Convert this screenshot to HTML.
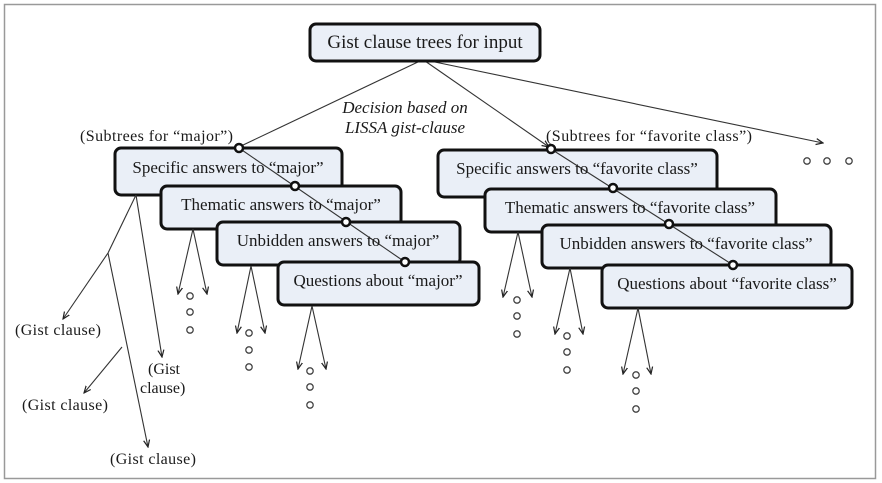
<!DOCTYPE html>
<html><head><style>body{margin:0;background:#fff}svg{display:block}text{font-family:"Liberation Serif",serif;fill:#1a1a1a}</style></head><body>
<svg width="882" height="483" viewBox="0 0 882 483" xmlns="http://www.w3.org/2000/svg">
<defs><marker id="a" markerWidth="8" markerHeight="8" refX="7" refY="4" orient="auto" markerUnits="userSpaceOnUse"><path d="M0,1 L7,4 L0,7" fill="none" stroke="#222" stroke-width="1.2"/></marker></defs>
<rect x="4.5" y="4.5" width="871" height="474" fill="#fff" stroke="#999" stroke-width="1.5"/>
<g stroke="#333" stroke-width="1.1" fill="none">
<line x1="420" y1="61" x2="241" y2="146"/>
<line x1="425" y1="61" x2="549" y2="147" marker-end="url(#a)"/>
<line x1="430" y1="61" x2="823" y2="143" marker-end="url(#a)"/>
</g>
<g stroke="#111" stroke-width="3" fill="#eaeff7">
<rect x="310" y="24" width="230" height="37" rx="6"/>
<rect x="115" y="148" width="227" height="47" rx="6"/>
<rect x="161" y="186" width="240" height="43" rx="6"/>
<rect x="217" y="222" width="243" height="43" rx="6"/>
<rect x="278" y="262" width="201" height="43" rx="6"/>
<rect x="438" y="150" width="279" height="47" rx="6"/>
<rect x="485" y="189" width="291" height="43" rx="6"/>
<rect x="542" y="225" width="289" height="43" rx="6"/>
<rect x="602" y="265" width="250" height="43" rx="6"/>
</g>
<g stroke="#333" stroke-width="1.1">
<line x1="239" y1="148" x2="405" y2="262"/>
<line x1="551" y1="149" x2="733" y2="265"/>
</g>
<g stroke="#111" stroke-width="2.5" fill="#fff">
<circle cx="239" cy="148" r="4"/><circle cx="295" cy="186" r="4"/><circle cx="346" cy="222" r="4"/><circle cx="405" cy="262" r="4"/>
<circle cx="551" cy="149" r="4"/><circle cx="613" cy="188" r="4"/><circle cx="669" cy="224" r="4"/><circle cx="733" cy="265" r="4"/>
</g>
<g font-size="17">
<text x="425" y="48" text-anchor="middle" font-size="19">Gist clause trees for input</text>
<text x="228" y="173" text-anchor="middle">Specific answers to “major”</text>
<text x="281" y="210" text-anchor="middle">Thematic answers to “major”</text>
<text x="338" y="246" text-anchor="middle">Unbidden answers to “major”</text>
<text x="378" y="286" text-anchor="middle">Questions about “major”</text>
<text x="577" y="174" text-anchor="middle">Specific answers to “favorite class”</text>
<text x="630" y="213" text-anchor="middle">Thematic answers to “favorite class”</text>
<text x="686" y="249" text-anchor="middle">Unbidden answers to “favorite class”</text>
<text x="727" y="289" text-anchor="middle">Questions about “favorite class”</text>
</g>
<g font-size="16">
<text x="405" y="113" text-anchor="middle" font-style="italic" font-size="17">Decision based on</text>
<text x="405" y="133" text-anchor="middle" font-style="italic" font-size="17">LISSA gist-clause</text>
<text x="80" y="141" textLength="153">(Subtrees for “major”)</text>
<text x="546" y="141" textLength="206">(Subtrees for “favorite class”)</text>
<text x="15" y="335" textLength="86">(Gist clause)</text>
<text x="148" y="374">(Gist</text>
<text x="140" y="393">clause)</text>
<text x="22" y="410" textLength="86">(Gist clause)</text>
<text x="110" y="464" textLength="86">(Gist clause)</text>
</g>
<g stroke="#333" stroke-width="1.1" fill="none">
<line x1="136" y1="195" x2="108" y2="253"/>
<line x1="108" y1="253" x2="63" y2="319" marker-end="url(#a)"/>
<line x1="136" y1="195" x2="162" y2="357" marker-end="url(#a)"/>
<line x1="108" y1="253" x2="148" y2="447" marker-end="url(#a)"/>
<line x1="122" y1="347" x2="84" y2="393" marker-end="url(#a)"/>
<line x1="193" y1="229" x2="178" y2="294" marker-end="url(#a)"/><line x1="193" y1="229" x2="207" y2="294" marker-end="url(#a)"/>
<line x1="251" y1="266" x2="237" y2="333" marker-end="url(#a)"/><line x1="251" y1="266" x2="265" y2="333" marker-end="url(#a)"/>
<line x1="312" y1="306" x2="298" y2="369" marker-end="url(#a)"/><line x1="312" y1="306" x2="326" y2="369" marker-end="url(#a)"/>
<line x1="518" y1="232" x2="503" y2="297" marker-end="url(#a)"/><line x1="518" y1="232" x2="532" y2="297" marker-end="url(#a)"/>
<line x1="570" y1="268" x2="555" y2="334" marker-end="url(#a)"/><line x1="570" y1="268" x2="583" y2="334" marker-end="url(#a)"/>
<line x1="638" y1="308" x2="623" y2="374" marker-end="url(#a)"/><line x1="638" y1="308" x2="651" y2="374" marker-end="url(#a)"/>
</g>
<g stroke="#444" stroke-width="1.3" fill="none">
<circle cx="190" cy="296" r="3.2"/><circle cx="190" cy="312" r="3.2"/><circle cx="190" cy="330" r="3.2"/>
<circle cx="249" cy="333" r="3.2"/><circle cx="249" cy="350" r="3.2"/><circle cx="249" cy="367" r="3.2"/>
<circle cx="310" cy="371" r="3.2"/><circle cx="310" cy="387" r="3.2"/><circle cx="310" cy="405" r="3.2"/>
<circle cx="517" cy="300" r="3.2"/><circle cx="517" cy="316" r="3.2"/><circle cx="517" cy="334" r="3.2"/>
<circle cx="567" cy="336" r="3.2"/><circle cx="567" cy="352" r="3.2"/><circle cx="567" cy="370" r="3.2"/>
<circle cx="636" cy="375" r="3.2"/><circle cx="636" cy="391" r="3.2"/><circle cx="636" cy="409" r="3.2"/>
<circle cx="807" cy="161" r="3.2"/><circle cx="827" cy="161" r="3.2"/><circle cx="849" cy="161" r="3.2"/>
</g>
</svg>
</body></html>
